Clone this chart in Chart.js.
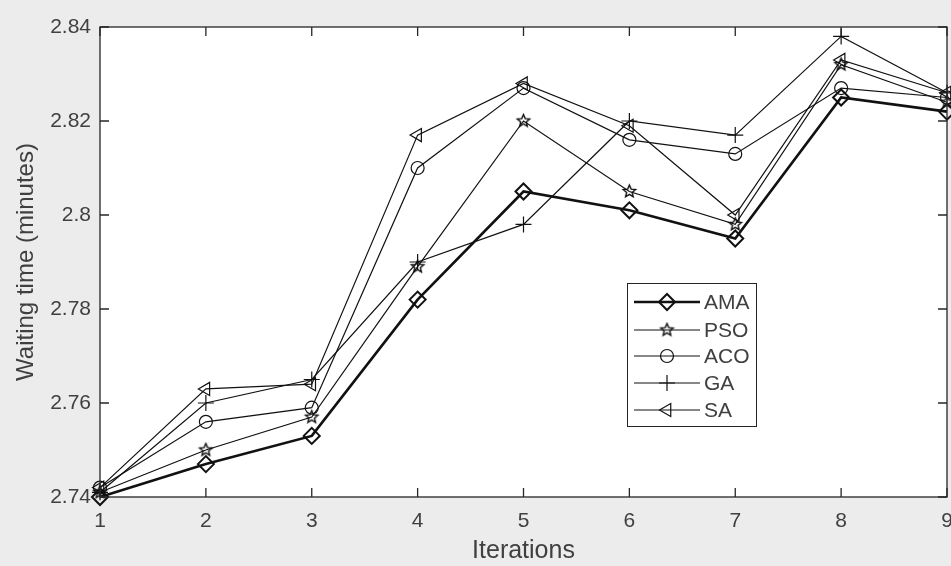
<!DOCTYPE html>
<html>
<head>
<meta charset="utf-8">
<script src="https://cdn.jsdelivr.net/npm/chart.js@4"></script>
<style>
  html, body { margin: 0; padding: 0; background: #ececec; }
  #wrap { width: 951px; height: 566px; }
</style>
</head>
<body>
<div id="wrap"><canvas id="waitChart" width="951" height="566"></canvas></div>
<script>
const iterations = [1, 2, 3, 4, 5, 6, 7, 8, 9];
const seriesNames = ['AMA', 'PSO', 'ACO', 'GA', 'SA'];
const ama = [2.740, 2.747, 2.753, 2.782, 2.805, 2.801, 2.795, 2.825, 2.822];
const pso = [2.741, 2.750, 2.757, 2.789, 2.820, 2.805, 2.798, 2.832, 2.824];
const aco = [2.742, 2.756, 2.759, 2.810, 2.827, 2.816, 2.813, 2.827, 2.825];
const ga  = [2.741, 2.760, 2.765, 2.790, 2.798, 2.820, 2.817, 2.838, 2.826];
const sa  = [2.742, 2.763, 2.764, 2.817, 2.828, 2.819, 2.800, 2.833, 2.826];
const yTicks = [2.74, 2.76, 2.78, 2.80, 2.82, 2.84];

const ink = '#111111';
const txt = '#404040';
const fam = '"Liberation Sans", Arial, sans-serif';

// five point star marker (outline)
function makeStar(r) {
  const c = document.createElement('canvas');
  const s = Math.ceil(r * 2 + 4);
  c.width = s; c.height = s;
  const g = c.getContext('2d');
  g.strokeStyle = ink;
  g.lineWidth = 1.4;
  g.beginPath();
  for (let i = 0; i < 10; i++) {
    const rad = i % 2 === 0 ? r : r * 0.45;
    const a = -Math.PI / 2 + i * Math.PI / 5;
    const x = s / 2 + rad * Math.cos(a), y = s / 2 + rad * Math.sin(a);
    if (i === 0) g.moveTo(x, y); else g.lineTo(x, y);
  }
  g.closePath();
  g.stroke();
  return c;
}
const starImg = makeStar(6.5);

function pts(vals) {
  return vals.map((v, i) => ({ x: iterations[i], y: v }));
}

const styles = [
  { data: ama, width: 2.6, pointStyle: 'rectRot', radius: 8, rot: 0 },
  { data: pso, width: 1.2, pointStyle: starImg, radius: 7, rot: 0 },
  { data: aco, width: 1.2, pointStyle: 'circle', radius: 6.5, rot: 0 },
  { data: ga,  width: 1.2, pointStyle: 'cross', radius: 8, rot: 0 },
  { data: sa,  width: 1.2, pointStyle: 'triangle', radius: 7.5, rot: -90 }
];

const datasets = styles.map((s, i) => ({
  label: seriesNames[i],
  data: pts(s.data),
  borderColor: ink,
  borderWidth: s.width,
  backgroundColor: 'transparent',
  pointStyle: s.pointStyle,
  pointRadius: s.radius,
  pointRotation: s.rot,
  pointBorderColor: ink,
  pointBackgroundColor: 'transparent',
  pointBorderWidth: s.width > 2 ? 2 : 1.2,
  tension: 0,
  clip: false
}));

// white plot area, box with inward ticks, x tick labels
const boxPlugin = {
  id: 'box',
  beforeDraw(chart) {
    const { ctx, chartArea: a } = chart;
    ctx.save();
    ctx.fillStyle = '#ffffff';
    ctx.fillRect(a.left, a.top, a.right - a.left, a.bottom - a.top);
    ctx.restore();
  },
  afterDraw(chart) {
    const { ctx, chartArea: a, scales } = chart;
    ctx.save();
    ctx.strokeStyle = '#262626';
    ctx.lineWidth = 1.3;
    ctx.strokeRect(a.left, a.top, a.right - a.left, a.bottom - a.top);
    ctx.beginPath();
    const tl = 9;
    iterations.forEach(v => {
      const x = scales.x.getPixelForValue(v);
      ctx.moveTo(x, a.bottom); ctx.lineTo(x, a.bottom - tl);
      ctx.moveTo(x, a.top); ctx.lineTo(x, a.top + tl);
    });
    yTicks.forEach(v => {
      const y = scales.y.getPixelForValue(v);
      ctx.moveTo(a.left, y); ctx.lineTo(a.left + tl, y);
      ctx.moveTo(a.right, y); ctx.lineTo(a.right - tl, y);
    });
    ctx.stroke();
    ctx.fillStyle = txt;
    ctx.font = '21px ' + fam;
    ctx.textAlign = 'center';
    ctx.textBaseline = 'top';
    iterations.forEach(v => {
      ctx.fillText(String(v), scales.x.getPixelForValue(v), a.bottom + 14);
    });
    ctx.restore();
  }
};

// boxed legend like the figure
const legendPlugin = {
  id: 'boxLegend',
  afterDatasetsDraw(chart) {
    const ctx = chart.ctx;
    const bx = 627, by = 283, bw = 129, bh = 143;
    const rows = [302, 330, 356, 383, 410];
    ctx.save();
    ctx.fillStyle = '#ffffff';
    ctx.fillRect(bx, by, bw, bh);
    ctx.strokeStyle = '#262626';
    ctx.lineWidth = 1;
    ctx.strokeRect(bx + 0.5, by + 0.5, bw, bh);
    chart.data.datasets.forEach((ds, i) => {
      const y = rows[i];
      ctx.strokeStyle = ink;
      ctx.lineWidth = ds.borderWidth;
      ctx.beginPath();
      ctx.moveTo(634, y); ctx.lineTo(700, y);
      ctx.stroke();
      ctx.lineWidth = ds.pointBorderWidth;
      ctx.fillStyle = 'rgba(0,0,0,0)';
      Chart.helpers.drawPoint(ctx, {
        pointStyle: ds.pointStyle,
        radius: ds.pointRadius,
        rotation: ds.pointRotation,
        borderWidth: ds.pointBorderWidth
      }, 667, y);
      ctx.fillStyle = txt;
      ctx.font = '21px ' + fam;
      ctx.textBaseline = 'middle';
      ctx.fillText(ds.label, 704, y + 1);
    });
    ctx.restore();
  }
};

new Chart(document.getElementById('waitChart'), {
  type: 'line',
  data: { datasets },
  options: {
    responsive: false,
    animation: false,
    events: [],
    layout: { autoPadding: false, padding: { top: 27, right: 4, left: 0, bottom: 0 } },
    plugins: { legend: { display: false }, tooltip: { enabled: false } },
    scales: {
      x: {
        type: 'linear',
        min: 1, max: 9,
        afterBuildTicks(s) { s.ticks = iterations.map(v => ({ value: v })); },
        afterFit(s) { s.height = 69; s.paddingLeft = 0; s.paddingRight = 0; },
        grid: { display: false, drawTicks: false },
        border: { display: false },
        ticks: { display: false },
        title: { display: true, text: 'Iterations', color: txt, padding: { top: 0, bottom: 0 },
                 font: { family: fam, size: 25 } }
      },
      y: {
        min: 2.74, max: 2.84,
        afterBuildTicks(s) { s.ticks = yTicks.map(v => ({ value: v })); },
        afterFit(s) { s.width = 100; },
        grid: { display: false, drawTicks: false },
        border: { display: false },
        ticks: { color: txt, padding: 9,
                 font: { family: fam, size: 21 },
                 callback: v => (Math.round(v * 100) / 100).toString() },
        title: { display: true, text: 'Waiting time (minutes)', color: txt, padding: { top: 12, bottom: 0 },
                 font: { family: fam, size: 24 } }
      }
    }
  },
  plugins: [boxPlugin, legendPlugin]
});
</script>
</body>
</html>
